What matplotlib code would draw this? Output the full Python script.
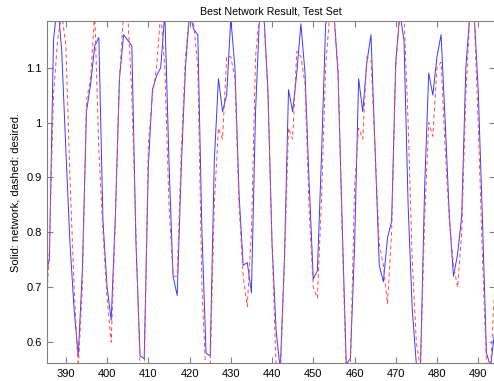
import numpy as np
import matplotlib
matplotlib.use("Agg")
import matplotlib.pyplot as plt

plt.rcParams['font.family'] = ['Liberation Sans', 'DejaVu Sans']

# sample index (test set)
x = np.arange(385, 495)

# network output (solid blue)
network = [0.72, 0.75, 1.15, 1.22, 1.13, 0.95, 0.78, 0.66, 0.575, 0.73,
           1.02, 1.07, 1.14, 1.155, 0.82, 0.70, 0.64, 0.83, 1.08, 1.16,
           1.15, 1.14, 0.78, 0.575, 0.57, 0.92, 1.06, 1.085, 1.10, 1.20,
           0.93, 0.72, 0.685, 0.92, 1.10, 1.20, 1.17, 1.16, 0.80, 0.58,
           0.575, 0.93, 1.08, 1.02, 1.05, 1.19, 1.10, 0.87, 0.74, 0.745,
           0.69, 1.02, 1.20, 1.20, 1.06, 0.78, 0.62, 0.55, 0.75, 1.06,
           1.02, 1.09, 1.18, 1.09, 0.89, 0.715, 0.73, 0.94, 1.18, 1.20,
           1.20, 1.09, 0.82, 0.56, 0.57, 0.77, 1.08, 1.02, 1.11, 1.16,
           0.95, 0.74, 0.71, 0.79, 0.82, 1.11, 1.20, 1.15, 0.85, 0.66,
           0.56, 0.555, 0.88, 1.09, 1.05, 1.12, 1.16, 1.00, 0.83, 0.72,
           0.76, 0.83, 1.10, 1.20, 1.20, 1.06, 0.83, 0.58, 0.555, 0.62]

# desired output (dashed red)
desired = [0.62, 0.77, 1.05, 1.15, 1.20, 1.14, 0.90, 0.70, 0.55, 0.70,
           1.04, 1.08, 1.20, 0.95, 0.80, 0.68, 0.60, 0.82, 1.08, 1.20,
           1.20, 1.05, 0.80, 0.55, 0.54, 0.96, 1.05, 1.10, 1.20, 1.10,
           0.85, 0.72, 0.72, 0.95, 1.12, 1.20, 1.18, 1.10, 0.70, 0.53,
           0.55, 0.85, 0.99, 0.97, 1.12, 1.12, 1.08, 0.85, 0.72, 0.665,
           0.80, 1.12, 1.20, 1.20, 1.05, 0.78, 0.55, 0.54, 0.74, 0.99,
           0.97, 1.13, 1.12, 1.07, 0.84, 0.70, 0.68, 0.86, 1.10, 1.20,
           1.20, 1.10, 0.80, 0.54, 0.55, 0.88, 0.99, 0.97, 1.12, 1.115,
           0.95, 0.78, 0.74, 0.67, 0.80, 1.10, 1.20, 1.20, 1.00, 0.75,
           0.60, 0.55, 0.82, 1.00, 0.975, 1.10, 1.11, 0.95, 0.82, 0.74,
           0.70, 0.80, 1.05, 1.20, 1.20, 1.00, 0.76, 0.56, 0.55, 0.70]

xticks = list(range(390, 500, 10))
yticks = [0.6, 0.7, 0.8, 0.9, 1.0, 1.1]

fig = plt.figure(figsize=(4.94, 3.81), dpi=100)
# axes run slightly past the right edge, like the cropped original
ax = fig.add_axes([47.3 / 494, 1 - 363 / 381, (494.7 - 47.3) / 494, (363 - 21) / 381])

ax.plot(x, network, '-', color='#3a3aff', lw=0.7)
ax.plot(x, desired, '--', color='#ff4a4a', lw=0.7, dashes=(4, 3))

ax.set_xlim(385.5, 494)
ax.set_ylim(0.562, 1.185)
ax.set_xticks(xticks)
ax.set_yticks(yticks)
ax.set_yticklabels(['0.6', '0.7', '0.8', '0.9', '1', '1.1'])

for s in ax.spines.values():
    s.set_color('#808080')
    s.set_linewidth(0.8)
ax.tick_params(direction='in', top=True, right=True, length=4,
               color='#808080', labelsize=8, labelcolor='black', pad=4)

ax.set_title('Best Network Result, Test Set', fontsize=7.7, pad=5)
ax.set_ylabel('Solid: network, dashed: desired.', fontsize=8)
ax.yaxis.set_label_coords(-0.061, 0.5)

fig.savefig('out.png', dpi=100)
